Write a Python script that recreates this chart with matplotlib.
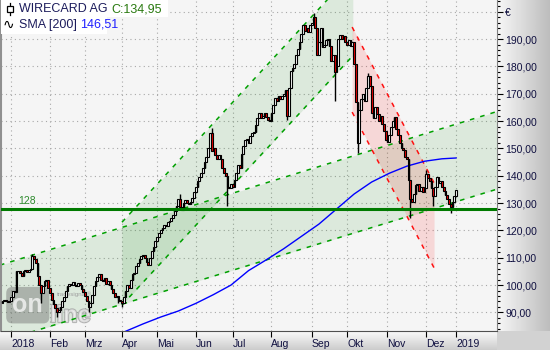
import numpy as np
import pandas as pd
import matplotlib
matplotlib.use('Agg')
import matplotlib.pyplot as plt
from matplotlib.patches import Rectangle
from matplotlib.ticker import MultipleLocator
import matplotlib.patheffects as pe

plt.rcParams['font.family'] = ['Liberation Sans', 'DejaVu Sans']

# Xetra-Handelstage 21.12.2017 - 02.01.2019
holidays = ['2017-12-25', '2017-12-26', '2018-01-01', '2018-03-30', '2018-04-02',
            '2018-05-01', '2018-12-24', '2018-12-25', '2018-12-26', '2018-12-31', '2019-01-01']
month_labels = ['2018', 'Feb', 'Mrz', 'Apr', 'Mai', 'Jun', 'Jul', 'Aug', 'Sep', 'Okt', 'Nov', 'Dez', '2019']

first_open = 93.6
closes = [
    94.0, 94.5, 94.3, 93.8, 94.2,
    # Jan
    95.5, 98.0, 97.5, 105.0, 105.0, 104.5, 103.5, 105.0, 105.5, 104.8, 105.5, 106.0, 110.5, 109.5, 108.0,
    103.5, 100.0, 97.0, 99.5, 101.5, 102.0, 99.0,
    # Feb
    97.0, 94.5, 93.0, 91.5, 90.0, 91.0, 92.0, 94.0, 95.5, 98.0, 99.5, 100.5, 100.0, 101.0, 100.2, 99.5,
    100.8, 100.0, 98.5, 97.5,
    # Mrz
    96.0, 94.0, 92.0, 93.5, 96.5, 99.5, 101.5, 103.0, 104.0, 102.0, 101.5, 102.5, 100.5, 101.5, 100.0, 98.5,
    97.0, 95.5, 96.0, 94.5, 94.0,
    # Apr
    93.5, 95.5, 98.0, 100.0, 99.0, 102.0, 104.0, 104.5, 107.0, 108.0, 109.5, 110.5, 111.0, 110.0, 108.5, 107.5,
    110.0, 112.5, 114.0, 116.0,
    # Mai
    117.5, 119.0, 120.0, 121.0, 122.0, 121.5, 123.0, 123.5, 124.5, 125.5, 127.0, 129.0, 131.5, 128.5, 127.5, 130.0,
    131.0, 130.0, 129.5, 130.5, 132.0, 134.0,
    # Jun
    136.0, 138.0, 139.5, 141.0, 143.0, 145.0, 147.0, 150.0, 155.5, 149.0, 150.0, 147.5, 146.0, 147.5, 146.0, 143.0,
    141.0, 140.0, 136.0, 135.5, 137.0,
    # Jul
    136.0, 138.5, 141.0, 144.0, 143.0, 148.0, 151.0, 153.0, 153.5, 152.0, 154.5, 155.5, 156.0, 158.5, 161.0, 163.0,
    161.0, 162.0, 163.0, 161.5, 160.5, 160.0,
    # Aug
    163.0, 166.0, 168.5, 167.5, 169.0, 168.0, 169.0, 170.0, 171.5, 162.0, 172.0, 178.5, 179.5, 181.0, 184.0, 186.5,
    189.0, 192.0, 195.0, 193.0, 194.0, 192.5, 195.0,
    # Sep
    196.0, 198.0, 194.0, 184.0, 189.0, 194.0, 187.0, 188.0, 189.5, 190.0, 187.5, 182.0, 184.0, 178.0, 180.0, 190.0,
    191.5, 190.0, 191.0, 189.0,
    # Okt
    188.0, 189.5, 187.5, 189.0, 181.0, 167.0, 152.0, 164.0, 168.0, 170.0, 167.5, 172.0, 176.5, 173.0, 163.0, 161.0,
    165.0, 162.5, 160.0, 162.0, 159.0, 156.5, 153.0,
    # Nov
    152.5, 155.0, 158.0, 160.0, 161.5, 157.0, 155.0, 152.0, 150.0, 149.5, 147.0, 146.0, 138.5, 131.5, 130.5, 133.5,
    136.5, 137.0, 134.5, 136.0, 134.0, 135.5,
    # Dez
    140.5, 139.0, 138.0, 135.5, 132.5, 136.0, 139.5, 137.5, 138.0, 136.0, 134.5, 133.0, 131.5, 129.5, 128.5, 130.5,
    132.5,
    # Jan 2019
    134.95,
]
# auffaellige Dochte (Tagesindex: Kurs)
wick_highs = {17: 111.5, 101: 133.5, 119: 157.5, 177: 199.5, 208: 177.6, 241: 142.0}
wick_lows = {22: 93.5, 31: 88.5, 49: 90.3, 66: 93.5, 68: 92.0, 128: 128.8, 162: 160.5,
             189: 167.5, 202: 148.3, 232: 124.5, 245: 129.0, 255: 126.4}

# SMA 200 (Stuetzpunkte)
sma_idx = [69, 80, 90, 100, 110, 120, 130, 140, 150, 160, 170, 180, 190, 200, 210, 220, 230, 240, 250, 258]
sma_val = [82.8, 85.8, 88.3, 90.5, 93.3, 96.5, 100.0, 105.3, 109.2, 113.3, 117.8, 122.3, 127.8, 133.3,
           137.7, 140.9, 143.5, 145.3, 146.2, 146.5]

# Trendkanaele (Tagesindex, Kurs)
long_x, long_upper, long_lower = [-1.4, 281.3], [107.3, 163.5], [79.3, 135.1]
steep_x, steep_upper, steep_lower = [68.0, 199.3], [123.0, 214.5], [92.7, 183.9]
down_x, down_upper, down_lower = [198.9, 245.5], [194.4, 137.4], [163.3, 106.3]
support = 128

days = pd.bdate_range('2017-12-21', '2019-01-02')
days = days[~days.isin(pd.to_datetime(holidays))]
n = len(closes)
x = np.arange(n)
c = np.array(closes)
o = np.r_[first_open, c[:-1]]
hi = np.maximum(o, c)
lo = np.minimum(o, c)
for k, v in wick_highs.items():
    hi[k] = max(hi[k], v)
for k, v in wick_lows.items():
    lo[k] = min(lo[k], v)
month_start = [i for i in range(1, n) if days[i].month != days[i - 1].month]

W, H = 550, 350
def px(l, t, w, h):
    return [l / W, 1 - (t + h) / H, w / W, h / H]

fig = plt.figure(figsize=(5.5, 3.5), dpi=100)
fig.patch.set_facecolor('#f5f5f5')

# graue Verlaeufe rechts und unten
ax_r = fig.add_axes(px(497, 0, 53, 331), zorder=0)
ax_r.imshow(np.linspace(0.97, 0.74, 64)[None, :], cmap='gray', vmin=0, vmax=1, aspect='auto')
ax_r.axis('off')
ax_b = fig.add_axes(px(0, 331, 497, 19), zorder=0)
ax_b.imshow(np.linspace(0.98, 0.80, 32)[:, None], cmap='gray', vmin=0, vmax=1, aspect='auto')
ax_b.axis('off')
ax_c = fig.add_axes(px(497, 331, 53, 19), zorder=0)
ax_c.set_facecolor('#d2d2d2')
ax_c.set_xticks([]); ax_c.set_yticks([])
for s in ax_c.spines.values():
    s.set_visible(False)

ax = fig.add_axes(px(1, 0, 496, 331), zorder=2)
ax.set_facecolor('#f5f5f5')
ax.set_xlim(-0.8, 281.3)
ax.set_ylim(83.2, 204.3)

# Kanaele
def channel(xs, up, low, line_col, fill_col, alpha):
    ax.fill_between(xs, up, low, color=fill_col, alpha=alpha, lw=0, zorder=1)
    ax.plot(xs, up, color=line_col, ls=(0, (3, 4)), lw=1.1, zorder=2)
    ax.plot(xs, low, color=line_col, ls=(0, (3, 4)), lw=1.1, zorder=2)

channel(long_x, long_upper, long_lower, '#00a000', '#008000', 0.10)
channel(steep_x, steep_upper, steep_lower, '#00a000', '#008000', 0.10)
channel(down_x, down_upper, down_lower, '#ff1010', '#ff0000', 0.12)

# Wasserzeichen (unter den Kerzen)
ax.text(0.054, 0.078, 'on', transform=ax.transAxes, fontsize=18, fontweight='bold', color='white',
        ha='center', va='center', alpha=0.7, zorder=1.5,
        bbox=dict(boxstyle='round,pad=0.25', fc='#707070', ec='none', alpha=0.45))
ax.text(0.099, 0.027, 'line', transform=ax.transAxes, fontsize=17, fontweight='bold', color='#eeeeee',
        ha='left', va='baseline', alpha=0.7, zorder=1.5,
        path_effects=[pe.withStroke(linewidth=1.5, foreground='#9a9a9a')])
ax.text(0.112, 0.11, 'tradesignal®', transform=ax.transAxes, fontsize=4.5, color='#a0a0a0',
        ha='left', va='center', zorder=1.5)

ax.plot(sma_idx, sma_val, color='#0000ff', lw=1.0, zorder=3)

# Kerzen
ax.vlines(x, lo, hi, color='black', lw=1.0, zorder=3)
body_col = np.where(c < o, '#ee0000', 'white')
ax.bar(x, np.maximum(np.abs(c - o), 0.3), bottom=np.minimum(o, c), width=1.0,
       color=body_col, edgecolor='black', linewidth=0.8, zorder=4)

ax.axhline(support, color='#007a00', lw=2.2, zorder=5)
ax.text(8.9, support + 1.0, str(support), fontsize=7.5, color='#2e8b2e', va='bottom', zorder=6)

# Achsen
ax.yaxis.tick_right()
yt = list(range(90, 201, 10))
ax.set_yticks(yt, [f'{v:.2f}'.replace('.', ',') for v in yt[:-1]] + ['€'])
ax.yaxis.set_minor_locator(MultipleLocator(2))
ax.tick_params(axis='y', which='major', length=4, width=0.8, pad=2, labelsize=7.5, labelcolor='#101040')
ax.tick_params(axis='y', which='minor', length=2, width=0.8)
ax.set_xticks(month_start, month_labels)
ax.tick_params(axis='x', length=4, width=0.8, pad=2, labelsize=7.5, labelcolor='#101040')
for lab in ax.get_xticklabels():
    lab.set_ha('left')
ax.grid(True, which='major', color='#a8a8a8', ls=(0, (1, 3)), lw=0.8)
ax.set_axisbelow(True)
ax.spines['top'].set_visible(False)
ax.spines['left'].set_color('#909090')
ax.spines['left'].set_linewidth(1.5)
ax.spines['right'].set_color('#808080')
ax.spines['bottom'].set_color('#505050')

# Legende oben links
ax.add_patch(Rectangle((0, 0.9486), 0.337, 0.0514, transform=ax.transAxes, fc='white', ec='none', zorder=10))
ax.add_patch(Rectangle((0, 0.8973), 0.214, 0.0514, transform=ax.transAxes, fc='white', ec='none', zorder=10))
ax.plot([0.0182, 0.0182], [0.955, 0.991], transform=ax.transAxes, color='black', lw=0.9, zorder=11)
ax.add_patch(Rectangle((0.0127, 0.964), 0.0109, 0.018, transform=ax.transAxes, fc='white', ec='black',
                       lw=0.9, zorder=12))
t1 = ax.text(0.0353, 0.9728, 'WIRECARD AG', transform=ax.transAxes, fontsize=9, color='#1c1c5c',
             va='center', zorder=11)
ax.annotate('C:134,95', xy=(1, 0.5), xycoords=t1, xytext=(3, 0), textcoords='offset points',
            fontsize=9, color='#2a7a10', va='center', zorder=11)
ax.text(0.004, 0.9245, '∿', transform=ax.transAxes, fontsize=10, color='black', va='center', zorder=11)
t2 = ax.text(0.0353, 0.9245, 'SMA [200]', transform=ax.transAxes, fontsize=9, color='#1c1c5c',
             va='center', zorder=11)
ax.annotate('146,51', xy=(1, 0.5), xycoords=t2, xytext=(3, 0), textcoords='offset points',
            fontsize=9, color='#2020ff', va='center', zorder=11)

fig.savefig('out.png', dpi=100, facecolor=fig.get_facecolor())
